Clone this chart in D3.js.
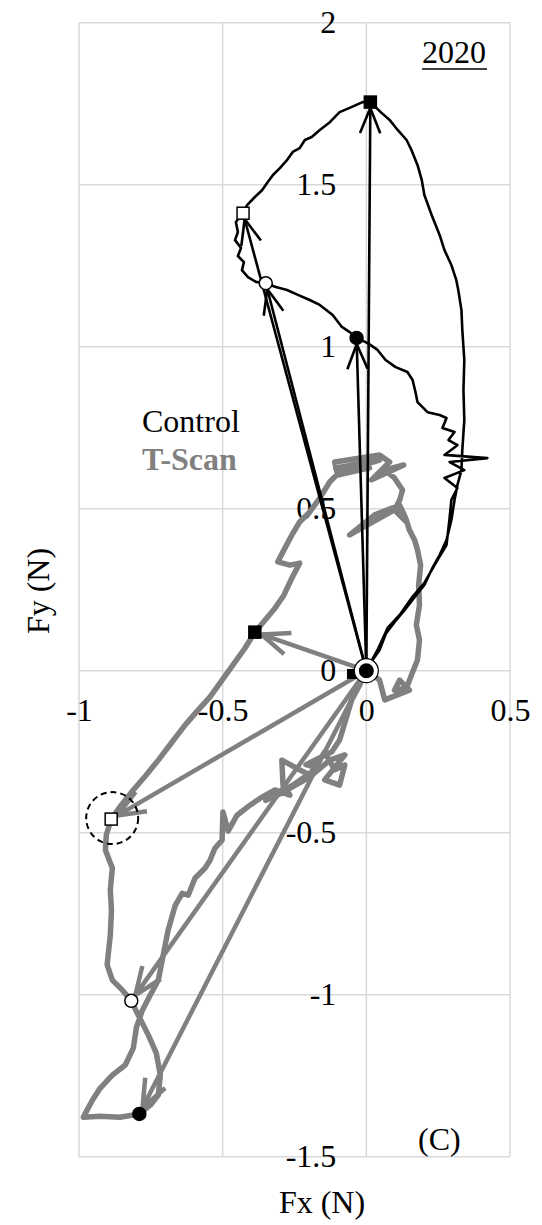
<!DOCTYPE html>
<html><head><meta charset="utf-8">
<script src="https://cdn.jsdelivr.net/npm/d3@7"></script>
<style>
html,body{margin:0;padding:0;background:#fff;}
</style></head>
<body>
<svg id="c" width="542" height="1225"></svg>
<script>
// ---- data ----
const xTicks = [-1, -0.5, 0, 0.5];
const yTicks = [-1.5, -1, -0.5, 0, 0.5, 1, 1.5, 2];

// Control trajectory (Fx, Fy) in N
const controlX = [0,0.022,0.046,0.069,0.098,0.133,0.168,0.202,0.230,0.255,0.279,0.296,0.307,0.317,0.331,0.334,0.341,0.338,0.341,0.334,0.331,0.320,0.313,0.296,0.272,0.255,0.230,0.202,0.193,0.178,0.157,0.140,0.109,0.081,0.050,0.014,-0.013,-0.058,-0.093,-0.127,-0.162,-0.190,-0.214,-0.232,-0.256,-0.276,-0.301,-0.325,-0.343,-0.363,-0.388,-0.415,-0.429,-0.454,-0.447,-0.457,-0.436,-0.447,-0.426,-0.433,-0.412,-0.384,-0.350,-0.315,-0.276,-0.238,-0.197,-0.162,-0.117,-0.085,-0.058,-0.034,0.005,0.039,0.067,0.102,0.143,0.161,0.171,0.178,0.213,0.255,0.279,0.265,0.307,0.286,0.317,0.272,0.421,0.290,0.341,0.272,0.317,0.296,0.289,0.279,0.248,0.202,0.157,0.116,0.074,0.039,0];
const controlY = [0,0.033,0.064,0.116,0.150,0.187,0.227,0.265,0.317,0.357,0.403,0.465,0.527,0.573,0.619,0.681,0.774,0.866,0.959,1.052,1.113,1.175,1.206,1.252,1.298,1.345,1.400,1.468,1.514,1.561,1.607,1.638,1.669,1.700,1.724,1.755,1.755,1.737,1.724,1.693,1.669,1.647,1.638,1.613,1.601,1.576,1.551,1.530,1.508,1.483,1.462,1.437,1.412,1.385,1.354,1.329,1.305,1.280,1.261,1.236,1.215,1.200,1.196,1.184,1.175,1.160,1.144,1.129,1.098,1.061,1.045,1.027,1.011,0.990,0.959,0.937,0.922,0.897,0.860,0.829,0.798,0.789,0.780,0.749,0.737,0.712,0.696,0.666,0.656,0.644,0.619,0.595,0.564,0.527,0.465,0.388,0.342,0.271,0.224,0.172,0.132,0.064,0];

// T-Scan trajectory
const tscanX = [0,0.046,0.064,0.150,0.116,0.098,0.140,0.157,0.178,0.185,0.174,0.185,0.182,0.189,0.178,0.168,0.150,0.137,0.116,0.029,-0.058,-0.016,0.109,0.140,0.098,0.116,0.126,0.098,0.063,0.130,0.018,0.081,0.046,-0.110,-0.100,0.011,-0.107,0.046,-0.093,-0.127,-0.162,-0.197,-0.232,-0.259,-0.283,-0.308,-0.266,-0.232,-0.259,-0.287,-0.318,-0.353,-0.388,-0.422,-0.464,-0.502,-0.544,-0.585,-0.631,-0.676,-0.724,-0.769,-0.811,-0.853,-0.888,-0.905,-0.908,-0.884,-0.891,-0.887,-0.891,-0.902,-0.884,-0.849,-0.818,-0.794,-0.759,-0.731,-0.717,-0.724,-0.752,-0.790,-0.857,-0.926,-0.985,-0.953,-0.926,-0.884,-0.839,-0.811,-0.800,-0.779,-0.752,-0.724,-0.707,-0.690,-0.665,-0.641,-0.620,-0.596,-0.561,-0.544,-0.527,-0.502,-0.499,-0.481,-0.450,-0.405,-0.363,-0.318,-0.266,-0.290,-0.294,-0.232,-0.197,-0.145,-0.110,-0.075,-0.093,-0.145,-0.075,-0.127,-0.200,-0.300,-0.350,-0.250,-0.170,-0.210,-0.120,-0.093,-0.072,-0.051,-0.023,0];
const tscanY = [0,-0.029,-0.090,-0.060,-0.029,-0.060,-0.053,-0.013,0.033,0.095,0.141,0.203,0.264,0.326,0.373,0.403,0.434,0.471,0.511,0.481,0.419,0.440,0.502,0.459,0.496,0.527,0.558,0.595,0.619,0.635,0.589,0.644,0.666,0.644,0.604,0.626,0.626,0.650,0.613,0.583,0.533,0.490,0.459,0.419,0.379,0.336,0.326,0.332,0.286,0.233,0.193,0.156,0.119,0.070,0.018,-0.029,-0.081,-0.121,-0.168,-0.220,-0.276,-0.325,-0.368,-0.415,-0.458,-0.507,-0.554,-0.609,-0.677,-0.739,-0.816,-0.908,-0.955,-0.986,-1.019,-1.063,-1.124,-1.180,-1.248,-1.310,-1.341,-1.368,-1.378,-1.375,-1.378,-1.325,-1.288,-1.248,-1.217,-1.165,-1.100,-1.047,-1.001,-0.955,-0.878,-0.801,-0.724,-0.687,-0.693,-0.640,-0.609,-0.585,-0.548,-0.523,-0.436,-0.495,-0.446,-0.415,-0.390,-0.368,-0.384,-0.353,-0.276,-0.306,-0.322,-0.251,-0.306,-0.291,-0.353,-0.337,-0.260,-0.276,-0.330,-0.380,-0.400,-0.350,-0.300,-0.290,-0.250,-0.214,-0.152,-0.090,-0.044,0];

// Key instants (markers + force arrows from origin)
const markerTypes = ["filledSquare", "openSquare", "openCircle", "filledCircle"];
const controlMarkX = [0.014, -0.429, -0.350, -0.034];
const controlMarkY = [1.755, 1.412, 1.196, 1.027];
const tscanMarkX = [-0.388, -0.888, -0.818, -0.790];
const tscanMarkY = [0.119, -0.458, -1.019, -1.368];
const highlightedIndex = 1; // T-Scan open square circled

const legendLabels = ["Control", "T-Scan"];
const yearLabel = "2020";
const panelLabel = "(C)";
const xTitle = "Fx (N)";
const yTitle = "Fy (N)";

// ---- drawing ----
const FONT = "'Liberation Serif', 'Times New Roman', serif";
const svg = d3.select("#c");
const x = d3.scaleLinear().domain([-1, 0.5]).range([79, 510]);
const y = d3.scaleLinear().domain([-1.5, 2]).range([1156.7, 22.7]);
const GRAY = "#808080";
const FS = 32;

function txt(sel) { return sel.style("font-family", FONT).style("font-size", FS + "px"); }

// gridlines
const grid = svg.append("g");
grid.selectAll("line.v").data(xTicks).join("line")
  .attr("x1", d => x(d)).attr("x2", d => x(d))
  .attr("y1", y(2)).attr("y2", y(-1.5))
  .attr("stroke", "#d9d9d9").attr("stroke-width", 1.5);
grid.selectAll("line.h").data(yTicks).join("line")
  .attr("y1", d => y(d)).attr("y2", d => y(d))
  .attr("x1", x(-1)).attr("x2", x(0.5))
  .attr("stroke", "#d9d9d9").attr("stroke-width", 1.5);

// axes (labels only)
const fmt = d => String(d);
const xa = svg.append("g").attr("transform", `translate(0,${y(0)})`)
  .call(d3.axisBottom(x).tickValues(xTicks).tickFormat(fmt).tickSize(0).tickPadding(28));
const ya = svg.append("g").attr("transform", `translate(${x(0)},0)`)
  .call(d3.axisLeft(y).tickValues(yTicks).tickFormat(fmt).tickSize(0).tickPadding(30));
[xa, ya].forEach(a => {
  a.select(".domain").remove();
  txt(a.selectAll("text")).attr("fill", "#000");
});

// titles
txt(svg.append("text")).attr("x", 322).attr("y", 1213).attr("text-anchor", "middle").text(xTitle);
txt(svg.append("text")).attr("transform", "translate(49,591) rotate(-90)").attr("text-anchor", "middle").text(yTitle);

// year label & panel label
txt(svg.append("text")).attr("x", 422).attr("y", 63).text(yearLabel);
svg.append("line").attr("x1", 422).attr("x2", 487).attr("y1", 69).attr("y2", 69)
  .attr("stroke", "#000").attr("stroke-width", 1.5);
txt(svg.append("text")).attr("x", 418).attr("y", 1150).text(panelLabel);

// legend
txt(svg.append("text")).attr("x", 142).attr("y", 432).attr("fill", "#000").text(legendLabels[0]);
txt(svg.append("text")).attr("x", 142).attr("y", 470).style("font-weight", "bold").attr("fill", GRAY).text(legendLabels[1]);

const line = d3.line().x(d => x(d[0])).y(d => y(d[1]));

// T-Scan path
const tscan = tscanX.map((v, i) => [v, tscanY[i]]);
svg.append("path").attr("d", line(tscan)).attr("fill", "none")
  .attr("stroke", GRAY).attr("stroke-width", 5.5).attr("stroke-linejoin", "round").attr("stroke-linecap", "round");

// arrows
function arrows(mx, my, color, width, headLen, shorten) {
  const g = svg.append("g");
  mx.forEach((vx, i) => {
    const x0 = x(0), y0 = y(0), x1 = x(vx), y1 = y(my[i]);
    const dx = x1 - x0, dy = y1 - y0, L = Math.hypot(dx, dy);
    const ux = dx / L, uy = dy / L;
    const tx = x1 - ux * shorten, ty = y1 - uy * shorten;
    g.append("line").attr("x1", x0).attr("y1", y0).attr("x2", tx).attr("y2", ty)
      .attr("stroke", color).attr("stroke-width", width);
    const a = 22 * Math.PI / 180;
    [a, -a].forEach(t => {
      const bx = -(ux * Math.cos(t) - uy * Math.sin(t));
      const by = -(ux * Math.sin(t) + uy * Math.cos(t));
      g.append("line").attr("x1", tx).attr("y1", ty)
        .attr("x2", tx + bx * headLen).attr("y2", ty + by * headLen)
        .attr("stroke", color).attr("stroke-width", width).attr("stroke-linecap", "butt");
    });
  });
}
arrows(tscanMarkX, tscanMarkY, GRAY, 4.5, 30, 7);

// control path
const control = controlX.map((v, i) => [v, controlY[i]]);
svg.append("path").attr("d", line(control)).attr("fill", "none")
  .attr("stroke", "#000").attr("stroke-width", 2.6).attr("stroke-linejoin", "round");
arrows(controlMarkX, controlMarkY, "#000", 2.6, 27, 6);

// markers
function markers(mx, my) {
  const g = svg.append("g");
  mx.forEach((vx, i) => {
    const cx = x(vx), cy = y(my[i]), t = markerTypes[i];
    if (t.endsWith("Square")) {
      g.append("rect").attr("x", cx - 6).attr("y", cy - 6).attr("width", 12).attr("height", 12)
        .attr("fill", t === "filledSquare" ? "#000" : "#fff").attr("stroke", "#000").attr("stroke-width", 1.5);
    } else {
      g.append("circle").attr("cx", cx).attr("cy", cy).attr("r", 6.5)
        .attr("fill", t === "filledCircle" ? "#000" : "#fff").attr("stroke", "#000").attr("stroke-width", 1.5);
    }
  });
}
markers(tscanMarkX, tscanMarkY);
markers(controlMarkX, controlMarkY);

// highlight dashed circle
svg.append("circle").attr("cx", x(tscanMarkX[highlightedIndex]) + 1).attr("cy", y(tscanMarkY[highlightedIndex]) - 1)
  .attr("r", 26).attr("fill", "none").attr("stroke", "#000").attr("stroke-width", 2).attr("stroke-dasharray", "6,4");

// origin markers
svg.append("rect").attr("x", x(-0.05) - 5).attr("y", y(-0.01) - 5).attr("width", 10).attr("height", 10).attr("fill", "#000");
svg.append("circle").attr("cx", x(0)).attr("cy", y(0)).attr("r", 12).attr("fill", "#fff").attr("stroke", "#000").attr("stroke-width", 1.2);
svg.append("circle").attr("cx", x(0)).attr("cy", y(0)).attr("r", 7.5).attr("fill", "#000");
</script>
</body></html>
